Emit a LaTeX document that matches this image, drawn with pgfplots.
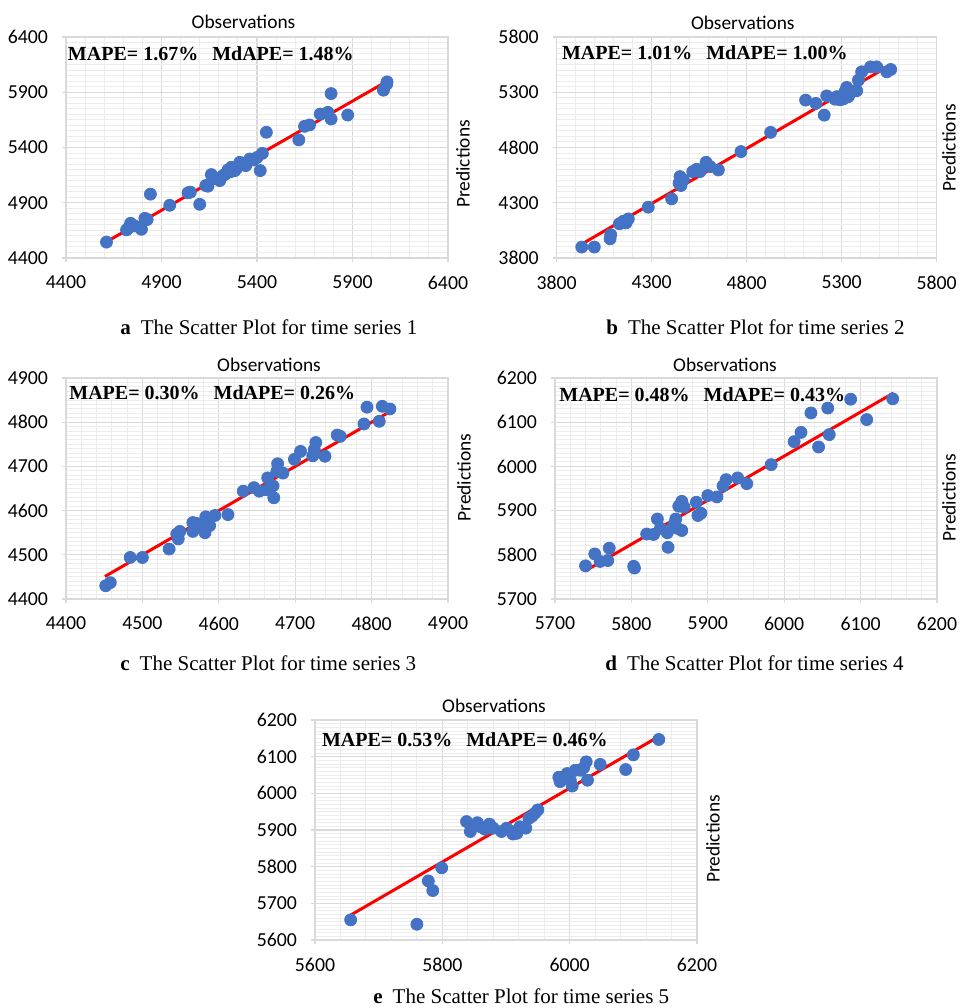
\documentclass[border=0pt]{standalone}
\usepackage{fontspec}
\setmainfont{Carlito}
\newfontfamily\tnr{Liberation Serif}
\usepackage{pgfplots}
\pgfplotsset{compat=1.18}
\definecolor{ptblue}{HTML}{4472C4}
\definecolor{gmaj}{HTML}{D9D9D9}
\definecolor{gmin}{HTML}{ECECEC}
\pgfplotsset{
  sc/.style={
    scale only axis,
    width=191pt, height=110.5pt,
    axis line style={draw=gmaj, line width=0.6pt},
    grid=both,
    major grid style={draw=gmaj, line width=0.6pt},
    minor grid style={draw=gmin, line width=0.5pt},
    minor x tick num=4, minor y tick num=9,
    tick align=outside, major tick length=2pt, minor tick length=0pt,
    tick style={draw=gmaj, line width=0.6pt},
    xtick pos=bottom, ytick pos=left,
    tick label style={font=\fontsize{9.9}{11}\selectfont},
    xticklabel style={yshift=-3.5pt},
    yticklabel style={xshift=-3.5pt},
    /pgf/number format/assume math mode=true,
    /pgf/number format/1000 sep={},
    clip=false,
  },
  pts/.style={only marks, mark=*, mark size=3pt, color=ptblue, mark options={draw=ptblue, fill=ptblue}},
  fit/.style={red, line width=1.5pt, no marks},
}
\newcommand{\mape}[2]{{\tnr\bfseries\fontsize{10}{12}\selectfont MAPE= #1\%\hspace{7pt}MdAPE= #2\%}}
\newcommand{\capt}[2]{{\tnr\fontsize{10.5}{12}\selectfont\textbf{#1}\hspace{5pt}The Scatter Plot for time series #2}}
\newcommand{\lab}{\fontsize{9.7}{11}\selectfont}
\begin{document}
\begin{tikzpicture}
\path[use as bounding box] (0pt,0pt) rectangle (480pt,-504pt);
% ---------- a ----------
\begin{axis}[sc, at={(33pt,-129pt)}, anchor=south west,
  xmin=4400, xmax=6400, ymin=4400, ymax=6400,
  xtick={4400,4900,5400,5900,6400}, ytick={4400,4900,5400,5900,6400}]
\addplot[pts] table {
4612 4544
4717 4655
4725 4668
4738 4714
4760 4690
4795 4660
4813 4759
4825 4748
4842 4978
4943 4877
5039 4990
5051 4996
5100 4886
5132 5056
5143 5050
5161 5155
5170 5125
5187 5116
5205 5101
5222 5146
5235 5160
5248 5197
5260 5180
5266 5221
5284 5191
5295 5215
5310 5266
5330 5255
5341 5236
5362 5296
5383 5287
5400 5310
5417 5191
5428 5347
5449 5538
5619 5469
5649 5592
5675 5604
5731 5703
5771 5718
5788 5658
5788 5888
5875 5694
6062 5919
6079 5973
6081 5994
};
\addplot[fit] coordinates {(4612,4547) (6082,6000)};
\end{axis}
% ---------- b ----------
\begin{axis}[sc, at={(278.35pt,-129pt)}, anchor=south west, width=190pt,
  xmin=3800, xmax=5800, ymin=3800, ymax=5800,
  xtick={3800,4300,4800,5300,5800}, ytick={3800,4300,4800,5300,5800}]
\addplot[pts] table {
3932 3899
3998 3899
4081 3974
4084 4011
4130 4110
4151 4133
4165 4118
4177 4154
4282 4260
4405 4335
4444 4477
4449 4537
4454 4456
4467 4507
4516 4582
4537 4603
4554 4582
4586 4666
4607 4627
4651 4597
4770 4763
4926 4937
5110 5229
5164 5199
5208 5093
5221 5267
5265 5237
5274 5260
5291 5232
5308 5239
5317 5306
5326 5344
5335 5260
5344 5290
5379 5314
5388 5410
5405 5485
5452 5530
5484 5530
5537 5485
5558 5506
};
\addplot[fit] coordinates {(3932,3926) (5554,5544)};
\end{axis}
% ---------- c ----------
\begin{axis}[sc, at={(33pt,-299.5pt)}, anchor=south west,
  xmin=4400, xmax=4900, ymin=4400, ymax=4900, xtick distance=100, ytick distance=100]
\addplot[pts] table {
4452 4430
4458 4437
4484 4494
4500 4494
4535 4513
4545 4547
4547 4536
4549 4553
4566 4573
4566 4553
4571 4571
4578 4566
4582 4550
4583 4586
4588 4566
4595 4589
4612 4591
4632 4644
4646 4652
4653 4644
4663 4647
4664 4674
4671 4656
4672 4629
4676 4689
4677 4706
4684 4685
4699 4716
4707 4734
4723 4724
4725 4738
4727 4754
4739 4723
4755 4771
4759 4768
4790 4796
4794 4834
4810 4802
4814 4836
4824 4830
};
\addplot[fit] coordinates {(4451,4451) (4825,4825)};
\end{axis}
% ---------- d ----------
\begin{axis}[sc, at={(277.5pt,-299.5pt)}, anchor=south west,
  xmin=5700, xmax=6200, ymin=5700, ymax=6200, xtick distance=100, ytick distance=100]
\addplot[pts] table {
5740 5775
5752 5802
5759 5785
5769 5787
5771 5815
5803 5774
5804 5770
5820 5847
5829 5846
5834 5881
5838 5860
5847 5850
5848 5817
5855 5867
5858 5881
5860 5860
5862 5910
5866 5921
5866 5855
5869 5908
5885 5919
5887 5889
5891 5894
5900 5934
5912 5931
5920 5956
5924 5970
5939 5974
5951 5961
5983 6004
6013 6056
6022 6077
6035 6121
6045 6044
6057 6132
6059 6072
6087 6152
6108 6106
6142 6153
};
\addplot[fit] coordinates {(5739,5763) (6143,6166)};
\end{axis}
% ---------- e ----------
\begin{axis}[sc, at={(157.5pt,-470pt)}, anchor=south west, height=110pt,
  xmin=5600, xmax=6200, ymin=5600, ymax=6200, xtick distance=200, ytick distance=100]
\addplot[pts] table {
5656 5655
5760 5643
5778 5761
5785 5735
5799 5797
5838 5923
5844 5896
5849 5911
5855 5920
5860 5909
5867 5902
5874 5916
5880 5905
5893 5896
5901 5905
5909 5896
5911 5889
5917 5891
5922 5909
5931 5905
5936 5932
5941 5938
5946 5947
5950 5955
5983 6044
5985 6032
5990 6041
5996 6054
6001 6036
6004 6020
6009 6063
6017 6063
6022 6070
6026 6086
6028 6036
6048 6079
6088 6065
6100 6105
6140 6147
};
\addplot[fit] coordinates {(5656,5668) (6140,6155)};
\end{axis}
% ---------- titles, labels ----------
\node[font=\lab] at (121.75pt,-11pt) {Observations};
\node[font=\lab] at (371.4pt,-11.5pt) {Observations};
\node[font=\lab] at (134.5pt,-182.5pt) {Observations};
\node[font=\lab] at (362.5pt,-182.5pt) {Observations};
\node[font=\lab] at (247pt,-353pt) {Observations};
\node[font=\lab, rotate=90] at (231.5pt,-82pt) {Predictions};
\node[font=\lab, rotate=90, inner sep=1pt] at (474.5pt,-74pt) {Predictions};
\node[font=\lab, rotate=90] at (232pt,-238.75pt) {Predictions};
\node[font=\lab, rotate=90, inner sep=1pt] at (474.5pt,-248.75pt) {Predictions};
\node[font=\lab, rotate=90] at (356.5pt,-419.5pt) {Predictions};
% MAPE texts
\node[anchor=west, inner sep=0pt] at (33.8pt,-27pt) {\mape{1.67}{1.48}};
\node[anchor=west, inner sep=0pt] at (280.8pt,-26.5pt) {\mape{1.01}{1.00}};
\node[anchor=west, inner sep=0pt] at (34.5pt,-196.5pt) {\mape{0.30}{0.26}};
\node[anchor=west, inner sep=0pt] at (279.5pt,-197.5pt) {\mape{0.48}{0.43}};
\node[anchor=west, inner sep=0pt] at (160.8pt,-370pt) {\mape{0.53}{0.46}};
% captions
\node[anchor=base west, inner sep=0pt] at (60pt,-167pt) {\capt{a}{1}};
\node[anchor=base west, inner sep=0pt] at (303pt,-167pt) {\capt{b}{2}};
\node[anchor=base west, inner sep=0pt] at (60pt,-335pt) {\capt{c}{3}};
\node[anchor=base west, inner sep=0pt] at (302.5pt,-335pt) {\capt{d}{4}};
\node[anchor=base west, inner sep=0pt] at (186.5pt,-501.5pt) {\capt{e}{5}};
\end{tikzpicture}
\end{document}
